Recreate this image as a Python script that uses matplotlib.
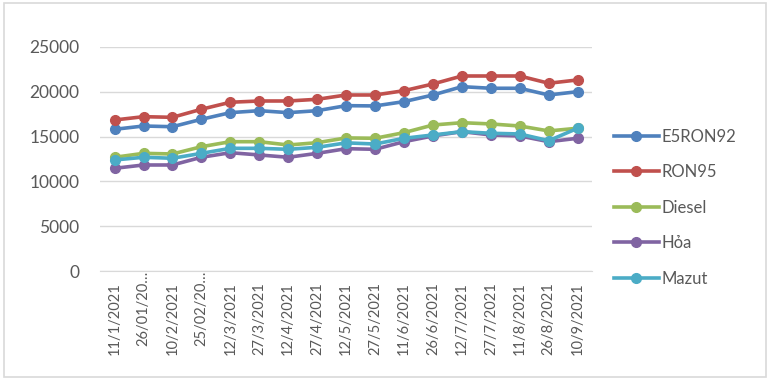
import matplotlib.pyplot as plt
from matplotlib.patches import Rectangle

# Giá xăng dầu theo kỳ điều chỉnh năm 2021
dates = ["11/1/2021", "26/01/20…", "10/2/2021", "25/02/20…", "12/3/2021",
         "27/3/2021", "12/4/2021", "27/4/2021", "12/5/2021", "27/5/2021",
         "11/6/2021", "26/6/2021", "12/7/2021", "27/7/2021", "11/8/2021",
         "26/8/2021", "10/9/2021"]

e5ron92 = [15810, 16180, 16100, 16930, 17670, 17890, 17670, 17890, 18450,
           18420, 18900, 19640, 20570, 20390, 20390, 19640, 20010]
ron95 = [16850, 17220, 17150, 18050, 18830, 18970, 18970, 19160, 19640,
         19640, 20120, 20870, 21760, 21760, 21760, 20950, 21320]
diesel = [12690, 13130, 13060, 13870, 14430, 14430, 14060, 14320, 14850,
          14810, 15440, 16290, 16550, 16410, 16180, 15630, 15930]
hoa = [11460, 11830, 11830, 12690, 13200, 12950, 12690, 13130, 13650,
       13580, 14430, 15070, 15550, 15180, 15070, 14430, 14810]
mazut = [12390, 12690, 12580, 13130, 13690, 13690, 13580, 13800, 14300,
         14170, 14810, 15180, 15550, 15370, 15290, 14540, 15930]

series = [("E5RON92", e5ron92, "#4F81BD"),
          ("RON95", ron95, "#C0504D"),
          ("Diesel", diesel, "#9BBB59"),
          ("Hỏa", hoa, "#8064A2"),
          ("Mazut", mazut, "#4BACC6")]

plt.rcParams['font.family'] = ['Lato', 'DejaVu Sans']

fig = plt.figure(figsize=(7.7, 3.83), dpi=100)
ax = fig.add_axes([0.130, 0.2924, 0.639, 0.585])

x = range(len(dates))
for name, vals, color in series:
    ax.plot(x, vals, color=color, lw=2.6, marker="o", markersize=7, label=name)

ax.set_xlim(-0.5, len(dates) - 0.5)
ax.set_ylim(0, 25000)
ax.set_yticks(range(0, 25001, 5000))
ax.set_xticks(list(x))
ax.set_xticklabels(dates, rotation=90, va="top",
                   family=["Liberation Sans Narrow", "Lato", "DejaVu Sans"])
ax.grid(axis="y", color="#d9d9d9", lw=1)
ax.set_axisbelow(True)
for s in ["top", "right", "left"]:
    ax.spines[s].set_visible(False)
ax.spines["bottom"].set_color("#d9d9d9")
ax.tick_params(axis="both", length=0, colors="#595959")
ax.tick_params(axis="y", pad=15, labelsize=12.5)
ax.tick_params(axis="x", pad=8, labelsize=10.5)

# nhãn bị cắt ngắn nằm cao hơn một chút
for lbl in ax.get_xticklabels():
    if lbl.get_text().endswith("…"):
        lbl.set_y(0.05)

fig.legend(loc="upper left", bbox_to_anchor=(0.797, 0.664), frameon=False,
           fontsize=12, handlelength=2.7, handletextpad=0.15,
           labelspacing=1.17, borderpad=0, borderaxespad=0,
           labelcolor="#595959")

# khung viền của biểu đồ
fig.patches.append(Rectangle((0.005, 0.016), 0.99, 0.976, transform=fig.transFigure,
                             fill=False, edgecolor="#d9d9d9", lw=1.2))

fig.savefig("out.png", dpi=100)
